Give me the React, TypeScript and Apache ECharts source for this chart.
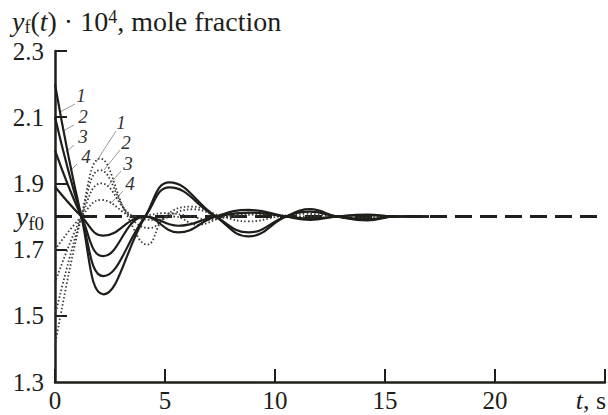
import React, { useEffect, useRef } from "react";
import * as echarts from "echarts";

// t (s), y_f(t)·10^4 — solid curves 1..4 (start above y_f0)
const solid1: [number, number][] = [[0, 2.2], [1.2, 1.8], [2.2, 1.565], [4.1, 1.8], [5.2, 1.903], [7.3, 1.8], [8.8, 1.74], [10.5, 1.8], [11.6, 1.822], [12.8, 1.8], [14.2, 1.788], [15.5, 1.8], [17, 1.8]];
const solid2: [number, number][] = [[0, 2.1], [1.2, 1.8], [2.2, 1.62], [4.1, 1.8], [5.2, 1.888], [7.3, 1.8], [8.8, 1.752], [10.5, 1.8], [11.6, 1.815], [12.8, 1.8], [14.2, 1.792], [15.5, 1.8], [17, 1.8]];
const solid3: [number, number][] = [[0, 2.0], [1.2, 1.8], [2.2, 1.68], [4.1, 1.8], [5.6, 1.752], [7.3, 1.8], [8.8, 1.82], [10.5, 1.8], [11.6, 1.79], [12.8, 1.8], [14.2, 1.806], [15.5, 1.8], [17, 1.8]];
const solid4: [number, number][] = [[0, 1.89], [1.2, 1.8], [2.2, 1.742], [4.1, 1.8], [5.6, 1.772], [7.3, 1.8], [8.8, 1.812], [10.5, 1.8], [11.6, 1.793], [12.8, 1.8], [14.2, 1.804], [15.5, 1.8], [17, 1.8]];
// dotted curves 1..4 (start below y_f0)
const dot1: [number, number][] = [[0, 1.41], [1.2, 1.8], [2.05, 1.975], [3.3, 1.8], [4.2, 1.715], [5.0, 1.8], [6.2, 1.83], [7.6, 1.8], [8.8, 1.785], [10.2, 1.8], [11.4, 1.808], [12.8, 1.8], [14.0, 1.797], [15.5, 1.8]];
const dot2: [number, number][] = [[0, 1.5], [1.2, 1.8], [2.05, 1.94], [3.4, 1.8], [4.3, 1.765], [5.1, 1.8], [6.3, 1.822], [7.6, 1.8], [9.2, 1.81], [10.5, 1.8], [11.6, 1.795], [13.0, 1.8]];
const dot3: [number, number][] = [[0, 1.6], [1.2, 1.8], [2.1, 1.9], [3.6, 1.8], [4.6, 1.79], [5.4, 1.8], [6.5, 1.775], [7.7, 1.8], [9.2, 1.812], [10.5, 1.8], [12.0, 1.8]];
const dot4: [number, number][] = [[0, 1.7], [1.2, 1.8], [2.1, 1.85], [3.7, 1.8], [5.0, 1.81], [6.2, 1.8], [7.0, 1.79], [8.0, 1.8], [9.5, 1.806], [10.8, 1.8]];
const baseline: [number, number][] = [[0, 1.8], [25, 1.8]];

const yLabelValues = [1.3, 1.5, 1.7, 1.8, 1.9, 2.1, 2.3];
const yTickValues = [1.5, 1.7, 1.9, 2.1, 2.3];
const curveNames = ["1", "2", "3", "4"];

const SERIF = "Liberation Serif";
const INK = "#1e1e1a";

export default function App() {
  const ref = useRef<HTMLDivElement>(null);
  useEffect(() => {
    if (!ref.current) return;
    const chart = echarts.init(ref.current, null, { renderer: "svg" });
    const solidSeries = [solid1, solid2, solid3, solid4].map((d, i) => ({
      type: "line",
      name: "solid " + curveNames[i],
      data: d,
      smooth: 0.45,
      showSymbol: false,
      lineStyle: { color: INK, width: 2.2 },
      z: 3,
    }));
    const dotSeries = [dot1, dot2, dot3, dot4].map((d, i) => ({
      type: "line",
      name: "dotted " + curveNames[i],
      data: d,
      smooth: 0.45,
      showSymbol: false,
      lineStyle: { color: "#3a3a36", width: 1.8, type: [1.5, 2.2] },
      z: 2,
    }));
    const labelStyle = { fontFamily: SERIF, fontSize: 19, fontStyle: "italic", fill: "#333" };
    const leftLabels = [[81, 95], [83, 116], [83, 136], [86, 156]];
    const leftLeaders = [[75, 104, 60, 112], [74, 125, 63, 131], [74, 145, 66, 152], [77, 164, 70, 171]];
    const rightLabels = [[121, 122], [126, 142], [128, 163], [130, 183]];
    const rightLeaders = [[116, 131, 96, 162], [120, 150, 104, 170], [121, 171, 108, 186], [123, 191, 110, 204]];
    const graphics: any[] = [];
    [leftLabels, rightLabels].forEach((grp) =>
      grp.forEach(([x, y], i) =>
        graphics.push({ type: "text", x, y, style: { ...labelStyle, text: curveNames[i], align: "center", verticalAlign: "middle" } })
      )
    );
    [leftLeaders, rightLeaders].forEach((grp) =>
      grp.forEach(([x1, y1, x2, y2]) =>
        graphics.push({ type: "line", shape: { x1, y1, x2, y2 }, style: { stroke: "#9a9a96", lineWidth: 1 } })
      )
    );
    graphics.push({
      type: "text",
      x: 12,
      y: 4,
      style: {
        text: "{i|y}{s|f}{n|(}{i|t}{n|) · 10}{p|4}{n|, mole fraction}",
        fill: INK,
        rich: {
          i: { fontFamily: SERIF, fontSize: 28, fontStyle: "italic", fill: INK, lineHeight: 34, verticalAlign: "middle" },
          n: { fontFamily: SERIF, fontSize: 28, fill: INK, lineHeight: 34, verticalAlign: "middle" },
          s: { fontFamily: SERIF, fontSize: 18, fill: INK, lineHeight: 34, verticalAlign: "bottom", padding: [0, 0, 2, 0] },
          p: { fontFamily: SERIF, fontSize: 18, fill: INK, lineHeight: 34, verticalAlign: "top", padding: [4, 0, 0, 0] },
        },
      },
    });
    graphics.push({
      type: "text",
      right: 2,
      top: 387,
      style: {
        text: "{i|t}{n|, s}",
        rich: {
          i: { fontFamily: SERIF, fontSize: 26, fontStyle: "italic", fill: INK },
          n: { fontFamily: SERIF, fontSize: 26, fill: INK },
        },
      },
    });

    chart.setOption({
      animation: false,
      backgroundColor: "#ffffff",
      textStyle: { fontFamily: SERIF },
      grid: { left: 55, right: 3, top: 51, bottom: 33, containLabel: false, outerBoundsMode: "none" },
      xAxis: {
        type: "value",
        min: 0,
        max: 25,
        interval: 5,
        splitLine: { show: false },
        axisLine: { lineStyle: { color: INK, width: 2.5 } },
        axisTick: { inside: true, length: 13, lineStyle: { color: INK, width: 2 } },
        axisLabel: {
          color: INK,
          fontFamily: SERIF,
          fontSize: 25,
          margin: 6,
          formatter: (v: number) => (v === 25 ? "" : String(v)),
        },
      },
      yAxis: {
        type: "value",
        min: 1.3,
        max: 2.3,
        splitLine: { show: false },
        axisLine: { lineStyle: { color: INK, width: 2.5 } },
        axisTick: { inside: true, length: 12, customValues: yTickValues, lineStyle: { color: INK, width: 2 } },
        axisLabel: {
          customValues: yLabelValues,
          color: INK,
          fontFamily: SERIF,
          fontSize: 25,
          margin: 11,
          formatter: (v: number) => (Math.abs(v - 1.8) < 1e-6 ? "{i|y}{s|f0}" : v.toFixed(1)),
          rich: {
            i: { fontFamily: SERIF, fontSize: 28, fontStyle: "italic", color: INK, verticalAlign: "middle", lineHeight: 32 },
            s: { fontFamily: SERIF, fontSize: 19, color: INK, verticalAlign: "bottom", lineHeight: 32 },
          },
        },
      },
      graphic: graphics,
      series: [
        {
          type: "line",
          name: "y_f0",
          data: baseline,
          showSymbol: false,
          lineStyle: { color: INK, width: 2.8, type: [17, 8] },
          z: 1,
        },
        ...dotSeries,
        ...solidSeries,
      ],
    });
    return () => chart.dispose();
  }, []);
  return <div ref={ref} style={{ position: "absolute", left: 0, top: 0, width: 608, height: 415 }} />;
}
